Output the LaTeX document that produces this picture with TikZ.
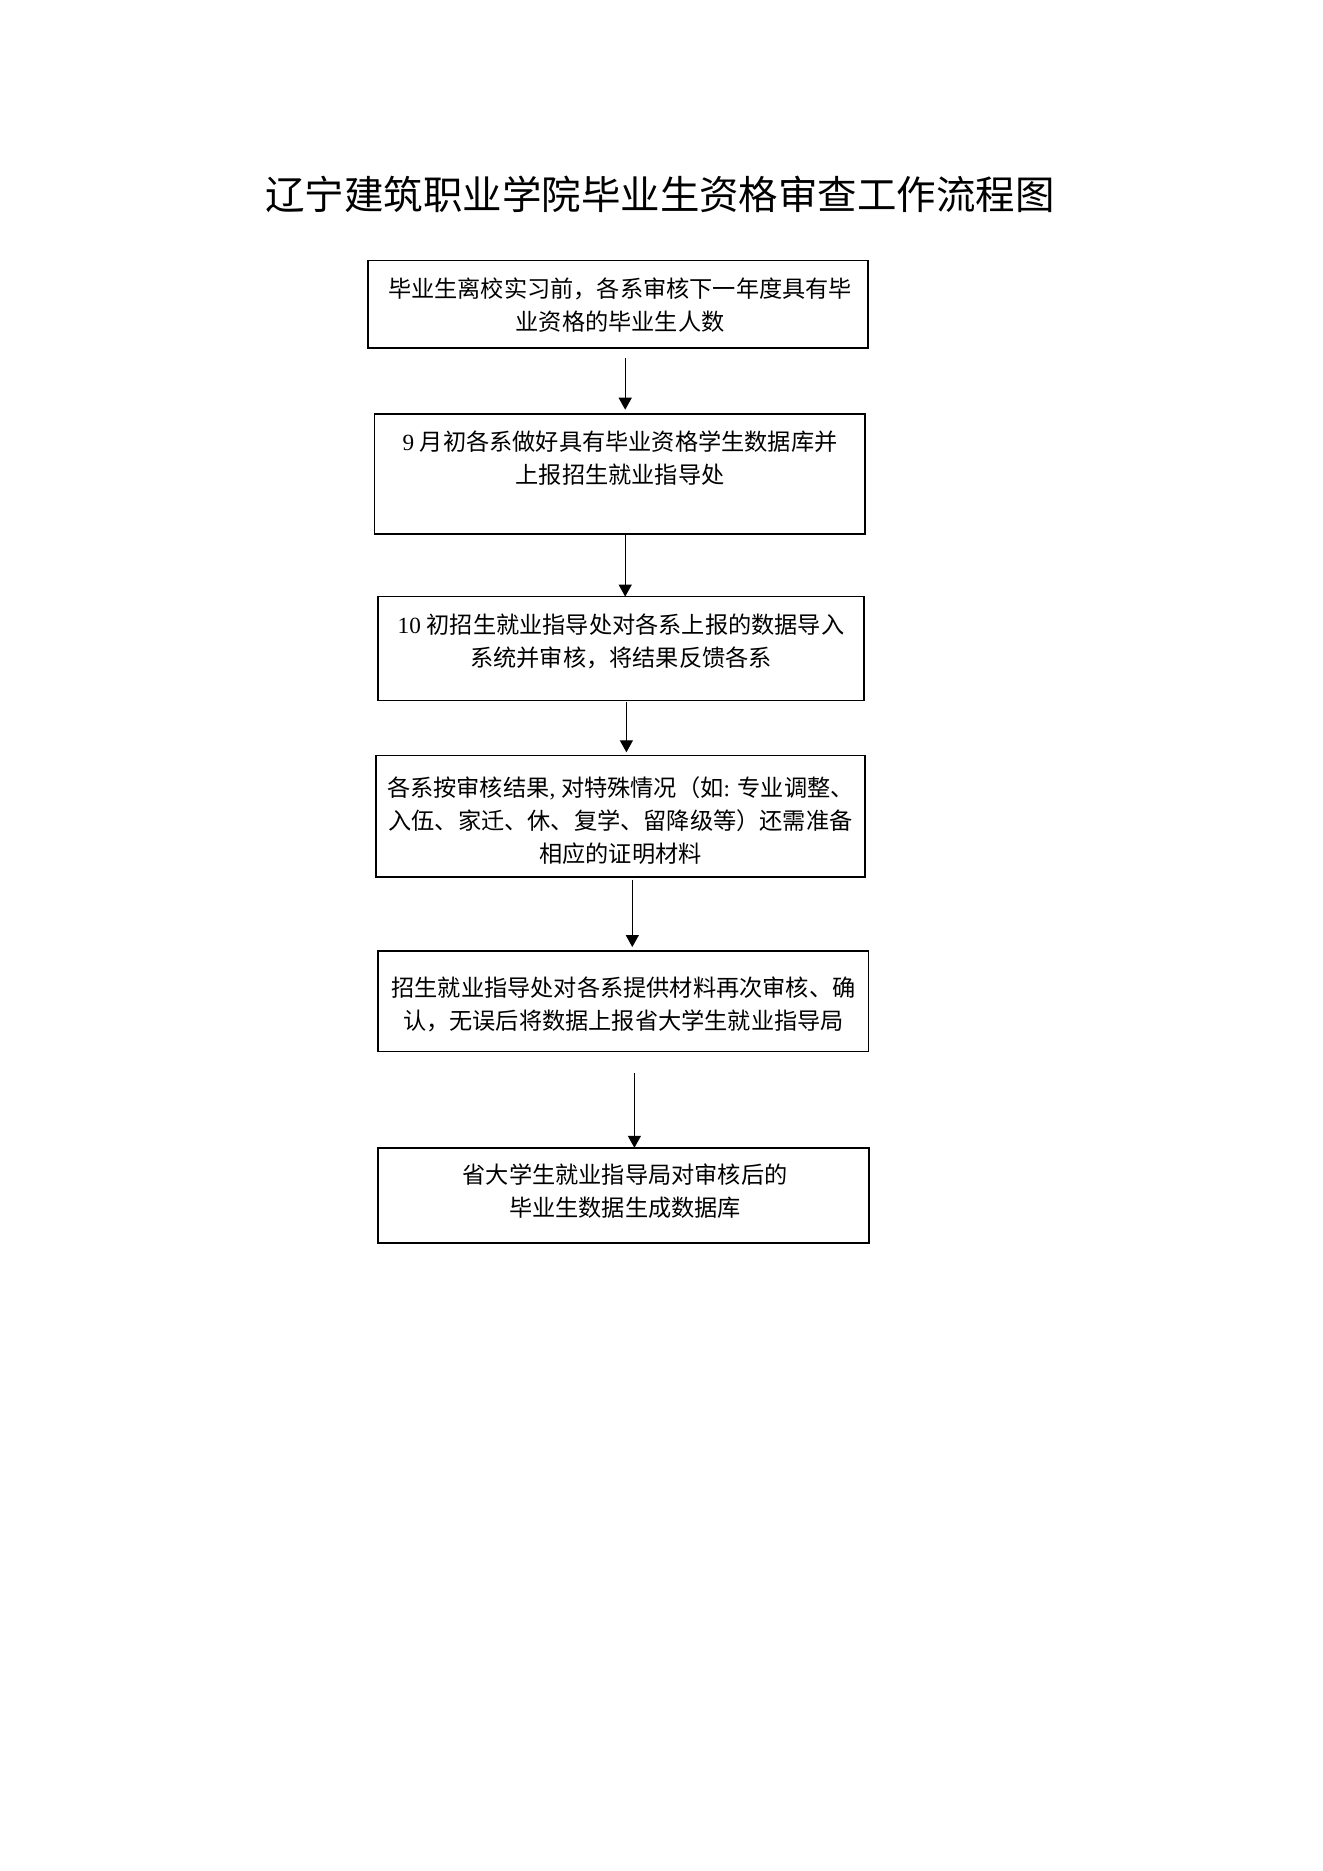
\documentclass[tikz,border=0pt]{standalone}
\usepackage{fontspec}
\setmainfont{Liberation Serif}
\newfontfamily\cjk{Noto Sans CJK SC}
\usetikzlibrary{arrows.meta}
\tikzset{
  box/.style={draw, line width=1.2pt, rectangle, inner sep=0pt, outer sep=0pt},
  txt/.style={align=center, inner sep=0pt, font=\cjk\fontsize{17.4pt}{24.9pt}\selectfont},
  arr/.style={line width=1pt, -{Triangle[length=9pt,width=9.75pt]}},
}
\begin{document}
\begin{tikzpicture}[x=0.75pt,y=-0.75pt]
\useasboundingbox (0,0) rectangle (1322,1871);
\node[font=\cjk\fontsize{29.6pt}{36pt}\selectfont, inner sep=0pt] (title) at (660,194) {辽宁建筑职业学院毕业生资格审查工作流程图};

\node[box, minimum width=375pt, minimum height=65.6pt] (b1) at (618,304.25) {};
\node[box, minimum width=367.8pt, minimum height=90.2pt] (b2) at (619.8,473.85) {};
\node[box, minimum width=364.2pt, minimum height=77.9pt] (b3) at (621,648.55) {};
\node[box, minimum width=366.9pt, minimum height=91pt] (b4) at (620.4,816.15) {};
\node[box, minimum width=367.8pt, minimum height=75.5pt] (b5) at (623.4,1001.35) {};
\node[box, minimum width=368.1pt, minimum height=71.2pt] (b6) at (623.6,1195.25) {};

\node[txt] (t1) at (620,305.5) {毕业生离校实习前，各系审核下一年度具有毕\\业资格的毕业生人数};
\node[txt] (t2) at (620,458.4) {{\rmfamily 9 }月初各系做好具有毕业资格学生数据库并\\上报招生就业指导处};
\node[txt] (t3) at (621,641.7) {{\rmfamily 10 }初招生就业指导处对各系上报的数据导入\\系统并审核，将结果反馈各系};
\node[txt] (t4) at (620.4,820.5) {各系按审核结果{\rmfamily , }对特殊情况（如{\rmfamily : }专业调整、\\入伍、家迁、休、复学、留降级等）还需准备\\相应的证明材料};
\node[txt] (t5) at (623.4,1004) {招生就业指导处对各系提供材料再次审核、确\\认，无误后将数据上报省大学生就业指导局};
\node[txt] (t6) at (625,1190.8) {省大学生就业指导局对审核后的\\毕业生数据生成数据库};

\coordinate (s1) at (625.2,357.5);
\coordinate (s2) at (625.2,535);
\coordinate (s3) at (626.4,701.5);
\coordinate (s4) at (632.3,879.5);
\coordinate (s5) at (634.4,1073.3);
\draw[arr, shorten >=3pt] (s1) -- (s1 |- b2.north);
\draw[arr] (s2) -- (s2 |- b3.north);
\draw[arr, shorten >=2.4pt] (s3) -- (s3 |- b4.north);
\draw[arr, shorten >=3pt] (s4) -- (s4 |- b5.north);
\draw[arr] (s5) -- (s5 |- b6.north);
\end{tikzpicture}
\end{document}
